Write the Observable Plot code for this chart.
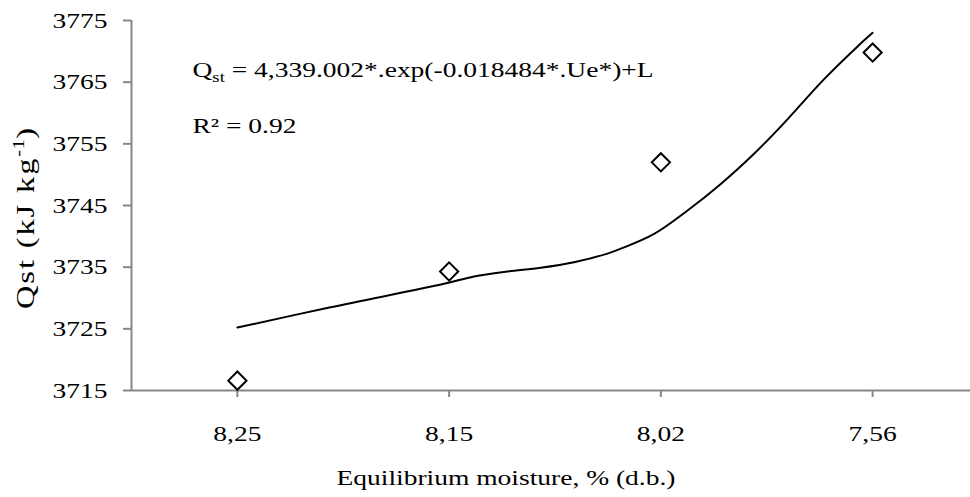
<!DOCTYPE html>
<html>
<head>
<meta charset="utf-8">
<script src="https://cdn.jsdelivr.net/npm/d3@7"></script>
<script src="https://cdn.jsdelivr.net/npm/@observablehq/plot@0.6"></script>
<style>
  html, body { margin: 0; padding: 0; background: #fff; }
  #chart svg { display: block; }
  #chart svg, #chart svg text { font-family: "Liberation Serif", "Times New Roman", serif; }
</style>
</head>
<body>
<div id="chart"></div>
<script>
// ---- data ----
const categories = ["8,25", "8,15", "8,02", "7,56"];
const categoryIndex = [1, 2, 3, 4];
const observedQst = [3716.6, 3734.3, 3752.0, 3769.8];

// fitted curve, sampled along the category axis (index position, value)
const fitPosition = [1.0, 1.44, 1.976, 2.118, 2.275, 2.432, 2.59, 2.748, 2.811, 2.968, 3.126, 3.283, 3.44, 3.566, 3.771, 3.929, 4.0];
const fitQst      = [3725.2, 3728.5, 3732.3, 3733.5, 3734.3, 3734.9, 3735.8, 3737.2, 3738.0, 3740.4, 3744.2, 3748.5, 3753.4, 3757.8, 3765.5, 3770.8, 3773.0];

const yTicks = [3715, 3725, 3735, 3745, 3755, 3765, 3775];

const yLabel = ["Qst (kJ kg", "-1", ")"];
const xLabel = "Equilibrium moisture, % (d.b.)";
const equation = ["Q", "st", " = 4,339.002*.exp(-0.018484*.Ue*)+L"];
const rSquared = "R\u00B2 = 0.92";

// ---- tables ----
const observed = categoryIndex.map((i, k) => ({x: i, y: observedQst[k]}));
const fit = fitPosition.map((p, k) => ({x: p, y: fitQst[k]}));

const axisGray = "#878787";
const STRETCH = 1.25;

const chart = Plot.plot({
  width: 970,
  height: 497,
  marginLeft: 131,
  marginRight: 0,
  marginTop: 20,
  marginBottom: 107,
  style: {fontFamily: "Liberation Serif", fontSize: "22px", background: "#fff", color: "#000"},
  x: {domain: [0.5, 4.5], range: [131, 978]},
  y: {domain: [3715, 3775]},
  marks: [
    Plot.axisY({ticks: yTicks, tickSize: 8, tickPadding: 16, stroke: axisGray, strokeWidth: 2, fill: "#000", label: null, tickFormat: d => String(d)}),
    Plot.axisX({ticks: categoryIndex, tickSize: 7, tickPadding: 28, stroke: axisGray, strokeWidth: 2, fill: "#000", label: null, tickFormat: d => categories[d - 1]}),
    Plot.ruleX([0.5], {stroke: axisGray, strokeWidth: 2}),
    Plot.ruleY([3715], {stroke: axisGray, strokeWidth: 2}),
    Plot.line(fit, {x: "x", y: "y", curve: "catmull-rom", stroke: "#000", strokeWidth: 2}),
    Plot.dot(observed, {x: "x", y: "y", symbol: "diamond2", r: 8.2, stroke: "#000", strokeWidth: 2, fill: "#fff"}),
    Plot.text([equation.join("")], {frameAnchor: "top-left", dx: 61, dy: 41, textAnchor: "start", fill: "#000"}),
    Plot.text([rSquared], {frameAnchor: "top-left", dx: 61, dy: 97, textAnchor: "start", fill: "#000"}),
    Plot.text([yLabel.join("")], {frameAnchor: "left", textAnchor: "middle", dx: -106, dy: 12, rotate: -90, fill: "#000", fontSize: 26}),
    Plot.text([xLabel], {frameAnchor: "bottom", dx: -45, dy: 94, fill: "#000"})
  ]
});

document.getElementById("chart").appendChild(chart);

const svg = d3.select(chart);
svg.selectAll("text").each(function() {
  const t = d3.select(this);
  const s = this.textContent;
  // subscripts / superscripts as real text spans
  if (s === equation.join("")) {
    t.text(null);
    t.append("tspan").text(equation[0]);
    t.append("tspan").attr("dy", 5).style("font-size", "15px").text(equation[1]);
    t.append("tspan").attr("dy", -5).text(equation[2]);
  } else if (s === yLabel.join("")) {
    t.text(null).style("letter-spacing", "1.5px");
    t.append("tspan").text(yLabel[0]);
    t.append("tspan").attr("dy", -10).style("font-size", "16px").style("letter-spacing", "0.5px").text(yLabel[1]);
    t.append("tspan").attr("dy", 10).text(yLabel[2]);
  }
});

// the reference typeface is set wide: stretch each label along its baseline around its own anchor
svg.selectAll("text").each(function() {
  const b = this.getBBox();
  if (!b || !isFinite(b.x)) return;
  const anchor = getComputedStyle(this).textAnchor;
  const ax = anchor === "end" ? b.x + b.width : anchor === "middle" ? b.x + b.width / 2 : b.x;
  const prev = this.getAttribute("transform") || "";
  this.setAttribute("transform", `${prev} translate(${ax},0) scale(${STRETCH},1) translate(${-ax},0)`.trim());
});
</script>
</body>
</html>
